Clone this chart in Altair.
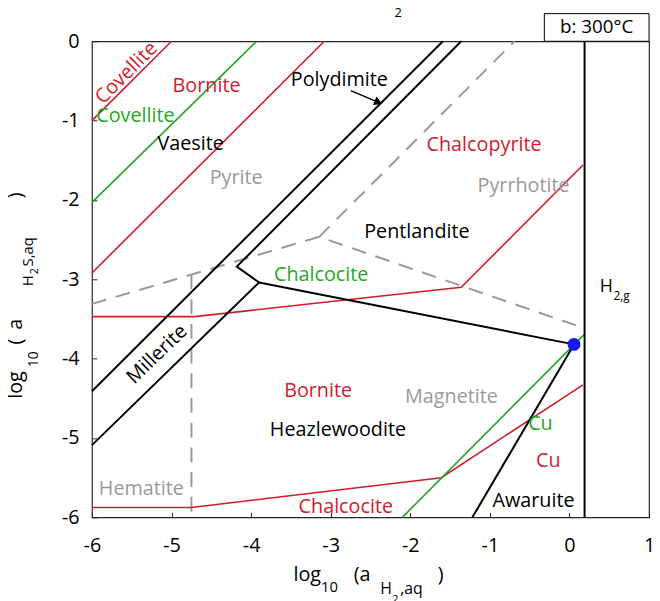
import altair as alt
import pandas as pd

# ---------------- data ----------------
RED_COVELLITE_X = [-6.0, -5.0]
RED_COVELLITE_Y = [-1.0, 0.0]
RED_BORNITE_X = [-6.0, -3.08]
RED_BORNITE_Y = [-2.92, 0.0]
RED_CHALCOCITE_UP_X = [-6.0, -4.71, -1.36, 0.17]
RED_CHALCOCITE_UP_Y = [-3.47, -3.47, -3.10, -1.56]
RED_CHALCOCITE_LOW_X = [-6.0, -4.75, -1.61, 0.17]
RED_CHALCOCITE_LOW_Y = [-5.875, -5.875, -5.50, -4.33]

GREEN_COVELLITE_X = [-6.0, -3.93]
GREEN_COVELLITE_Y = [-2.03, 0.0]
GREEN_CU_X = [-2.10, 0.18]
GREEN_CU_Y = [-6.0, -3.70]

BLACK_POLY_A_X = [-6.0, -1.59]
BLACK_POLY_A_Y = [-4.41, 0.0]
BLACK_POLY_B_X = [-1.36, -4.18, -3.90, -6.0]
BLACK_POLY_B_Y = [0.0, -2.84, -3.04, -5.09]
BLACK_CHALCOCITE_X = [-3.90, 0.057]
BLACK_CHALCOCITE_Y = [-3.04, -3.82]
BLACK_AWARUITE_X = [0.057, -1.22]
BLACK_AWARUITE_Y = [-3.82, -6.0]
BLACK_H2_X = [0.19, 0.19]
BLACK_H2_Y = [-6.0, 0.0]

GRAY_A_X = [-6.0, -3.145, 0.17]
GRAY_A_Y = [-3.31, -2.465, -3.61]
GRAY_B_X = [-3.145, -0.69]
GRAY_B_Y = [-2.465, 0.0]
GRAY_C_X = [-4.75, -4.75]
GRAY_C_Y = [-2.94, -6.0]

POINT_X = [0.057]
POINT_Y = [-3.82]

ARROW_X = [-2.748, -2.40]
ARROW_Y = [-0.622, -0.77]

X_TICKS = [-6, -5, -4, -3, -2, -1, 0, 1]
Y_TICKS = [-6, -5, -4, -3, -2, -1, 0]

LABEL_TEXT = ["Covellite", "Bornite", "Covellite", "Vaesite", "Pyrite", "Polydimite",
              "Chalcopyrite", "Pyrrhotite", "Pentlandite", "Chalcocite", "Millerite",
              "Bornite", "Heazlewoodite", "Magnetite", "Cu", "Cu", "Awaruite",
              "Chalcocite", "Hematite"]
LABEL_X = [-5.566, -4.56, -5.454, -4.759, -4.188, -2.891,
           -1.073, -0.576, -1.917, -3.12, -5.181,
           -3.158, -2.909, -1.482, -0.365, -0.266, -0.452,
           -2.81, -5.379]
LABEL_Y = [-0.40, -0.56, -0.946, -1.295, -1.73, -0.486,
           -1.307, -1.82, -2.40, -2.95, -3.946,
           -4.407, -4.905, -4.482, -4.83, -5.29, -5.80,
           -5.876, -5.64]

RED = "#d01c2c"
GREEN = "#1fa81f"
GRAY = "#9a9a9a"
BLACK = "#000000"
LABEL_COLOR = [RED, RED, GREEN, BLACK, GRAY, BLACK,
               RED, GRAY, BLACK, GREEN, BLACK,
               RED, BLACK, GRAY, GREEN, RED, BLACK,
               RED, GRAY]
LABEL_ANGLE = [315, 0, 0, 0, 0, 0,
               0, 0, 0, 0, 316,
               0, 0, 0, 0, 0, 0,
               0, 0]

FONT = "Open Sans"


def frame(kind, segs):
    rows = []
    for name, xs, ys in segs:
        for i, (a, b) in enumerate(zip(xs, ys)):
            rows.append({"x": a, "y": b, "seg": name, "ord": i, "kind": kind})
    return pd.DataFrame(rows)


red_df = frame("red", [("rc", RED_COVELLITE_X, RED_COVELLITE_Y),
                       ("rb", RED_BORNITE_X, RED_BORNITE_Y),
                       ("rcu", RED_CHALCOCITE_UP_X, RED_CHALCOCITE_UP_Y),
                       ("rcl", RED_CHALCOCITE_LOW_X, RED_CHALCOCITE_LOW_Y)])
green_df = frame("green", [("gc", GREEN_COVELLITE_X, GREEN_COVELLITE_Y),
                           ("gu", GREEN_CU_X, GREEN_CU_Y)])
black_df = frame("black", [("ba", BLACK_POLY_A_X, BLACK_POLY_A_Y),
                           ("bb", BLACK_POLY_B_X, BLACK_POLY_B_Y),
                           ("bc", BLACK_CHALCOCITE_X, BLACK_CHALCOCITE_Y),
                           ("bw", BLACK_AWARUITE_X, BLACK_AWARUITE_Y),
                           ("bh", BLACK_H2_X, BLACK_H2_Y)])
gray_df = frame("gray", [("ga", GRAY_A_X, GRAY_A_Y),
                         ("gb", GRAY_B_X, GRAY_B_Y),
                         ("gc2", GRAY_C_X, GRAY_C_Y)])
arrow_df = frame("arrow", [("ar", ARROW_X, ARROW_Y)])

labels_df = pd.DataFrame({"x": LABEL_X, "y": LABEL_Y, "text": LABEL_TEXT,
                          "color": LABEL_COLOR, "angle": LABEL_ANGLE})

xs = alt.Scale(domain=[-6, 1], nice=False, zero=False)
ys = alt.Scale(domain=[-6, 0], nice=False, zero=False)
x_axis = alt.Axis(values=X_TICKS, labelExpr="'' + datum.value", title=None, grid=False,
                  domain=False, offset=-5, tickSize=5, tickColor="#262626", labelFont=FONT,
                  labelFontSize=20, labelColor="#000", labelPadding=19,
                  labelFlush=False, labelOverlap=False)
y_axis = alt.Axis(values=Y_TICKS, labelExpr="'' + datum.value", title=None, grid=False,
                  domain=False, offset=-5, tickSize=5, tickColor="#262626", labelFont=FONT,
                  labelFontSize=20, labelColor="#000", labelPadding=13,
                  labelFlush=False, labelOverlap=False)
X = alt.X("x:Q", scale=xs, axis=x_axis)
Y = alt.Y("y:Q", scale=ys, axis=y_axis)


def lines(df, color, width, dash=None):
    kw = dict(color=color, strokeWidth=width)
    if dash:
        kw["strokeDash"] = dash
    return alt.Chart(df).mark_line(**kw).encode(x=X, y=Y, detail="seg:N", order="ord:Q")


layers = [
    lines(gray_df, GRAY, 2, [15, 10]),
    lines(red_df, RED, 1.6),
    lines(green_df, GREEN, 1.6),
    lines(black_df, BLACK, 2),
    lines(arrow_df, BLACK, 1.5),
    alt.Chart(pd.DataFrame({"x": [ARROW_X[-1]], "y": [ARROW_Y[-1]]})).mark_point(
        shape="triangle-up", filled=True, color=BLACK, opacity=1, size=90, angle=113
    ).encode(x=X, y=Y),
    alt.Chart(pd.DataFrame({"x": POINT_X, "y": POINT_Y})).mark_point(
        filled=True, color="#1717f0", opacity=1, size=170
    ).encode(x=X, y=Y),
    alt.Chart(labels_df).mark_text(font=FONT, fontSize=20, align="center", baseline="middle").encode(
        x=X, y=Y, text="text:N",
        color=alt.Color("color:N", scale=None),
        angle=alt.Angle("angle:Q", scale=None),
    ),
]

one = pd.DataFrame({"a": [0]})


def ptext(txt, px, py, size, angle=0, align="left", baseline="alphabetic", color="#000"):
    return alt.Chart(one).mark_text(
        text=txt, font=FONT, fontSize=size, angle=angle, align=align,
        baseline=baseline, color=color
    ).encode(x=alt.value(px), y=alt.value(py))


# box "b: 300°C"
layers.append(alt.Chart(one).mark_rect(fill="white", stroke="#000", strokeWidth=1).encode(
    x=alt.value(458), x2=alt.value(564), y=alt.value(-28), y2=alt.value(0)))
layers.append(ptext("b: 300°C", 511, -14, 19, align="center", baseline="middle"))
# cut-off title fragment
layers.append(ptext("2", 310, -25, 13, align="center"))
# H2,g
layers.append(ptext("H", 514, 254, 18))
layers.append(ptext("2,g", 528, 262, 12))
# x title
layers += [
    ptext("log", 204, 546, 20),
    ptext("10", 232, 558, 15),
    ptext("(a", 265, 546, 20),
    ptext("H", 292, 560, 16),
    ptext("2", 304, 569, 11),
    ptext(",aq", 312, 560, 16),
    ptext(")", 350, 546, 20),
]
# y title (rotated)
layers += [
    ptext("log", -71, 362, 20, angle=270),
    ptext("10", -55, 330, 14, angle=270),
    ptext("(", -71, 307, 20, angle=270),
    ptext("a", -71, 292, 20, angle=270),
    ptext("H", -60, 248, 15, angle=270),
    ptext("2", -55, 236, 11, angle=270),
    ptext("S,aq", -60, 228, 15, angle=270),
    ptext(")", -71, 159, 20, angle=270),
]

chart = alt.layer(*layers).properties(
    width=564, height=482,
    padding={"left": 85, "top": 30, "right": 3, "bottom": 81},
    autosize=alt.AutoSizeParams(type="none"),
).configure_view(stroke="#262626", strokeWidth=1.2)

chart.save("out.html", embed_options={"renderer": "svg", "actions": False})
